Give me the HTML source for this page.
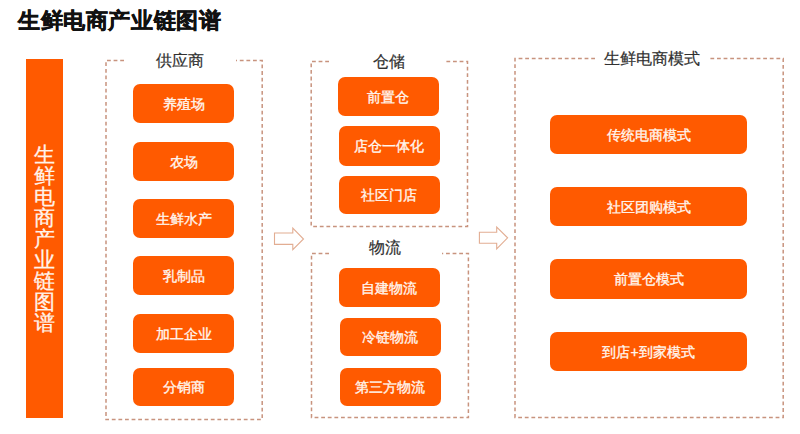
<!DOCTYPE html>
<html><head><meta charset="utf-8">
<style>
*{margin:0;padding:0;box-sizing:border-box}
html,body{width:800px;height:434px;background:#fff;overflow:hidden;font-family:"Liberation Sans",sans-serif}
.a{position:absolute}
.title{left:18px;top:6px;font-size:22px;font-weight:700;-webkit-text-stroke:0.5px #111;color:#111;letter-spacing:0.6px;white-space:nowrap;line-height:30px}
.bar{left:26px;top:59px;width:37px;height:359px;background:#FF5A00}
.vt{left:26px;top:143.5px;width:37px;font-size:21px;line-height:21.1px;color:#FFF4EC;text-align:center;-webkit-text-stroke:0.3px #FFF4EC}
.lbl{font-size:16px;color:#333;line-height:16px;white-space:nowrap;width:160px;text-align:center;-webkit-text-stroke:0.2px #303030;color:#303030}
.btn{background:#FF5A00;border-radius:7px;color:#fff;font-size:14px;text-align:center;white-space:nowrap;display:flex;align-items:center;justify-content:center;-webkit-text-stroke:0.35px #FFF6EE;color:#FFF6EE;padding-top:3px}
svg{position:absolute;left:0;top:0}
</style></head><body>
<div class="a title">生鲜电商产业链图谱</div>
<div class="a bar"></div>
<div class="a vt">生<br>鲜<br>电<br>商<br>产<br>业<br>链<br>图<br>谱</div>
<svg width="800" height="434">
<path d="M124 60.5 H106 V419.5 H262.2 V60.5 H236" fill="none" stroke="#C8937E" stroke-width="1.5" stroke-dasharray="3.8 2.8"/>
<path d="M329 61.4 H311.2 V226.4 H467.5 V61.4 H444" fill="none" stroke="#C8937E" stroke-width="1.5" stroke-dasharray="3.8 2.8"/>
<path d="M329 253.4 H311.5 V417.6 H468.4 V253.4 H442" fill="none" stroke="#C8937E" stroke-width="1.5" stroke-dasharray="3.8 2.8"/>
<path d="M595 58.5 H515 V417.5 H783.2 V58.5 H707.7" fill="none" stroke="#C8937E" stroke-width="1.5" stroke-dasharray="3.8 2.8"/>
<path d="M274.5 233 H292.8 V228.2 L303.5 239 L292.8 249.6 V244.4 H274.5 Z" fill="none" stroke="#E2AD92" stroke-width="1.1"/>
<path d="M479.4 232.3 H496.7 V227.1 L507.6 237.8 L496.7 249 V243.2 H479.4 Z" fill="none" stroke="#E2AD92" stroke-width="1.1"/>
</svg>
<div class="a lbl" style="left:99.5px;top:52.5px">供应商</div>
<div class="a lbl" style="left:308.5px;top:53.5px">仓储</div>
<div class="a lbl" style="left:304.5px;top:239.5px">物流</div>
<div class="a lbl" style="left:571.5px;top:50.5px">生鲜电商模式</div>
<div class="a btn" style="left:133px;top:83.5px;width:101px;height:39.5px">养殖场</div>
<div class="a btn" style="left:133px;top:141.5px;width:101px;height:39.5px">农场</div>
<div class="a btn" style="left:133px;top:198.5px;width:101px;height:39.5px">生鲜水产</div>
<div class="a btn" style="left:133px;top:256px;width:101px;height:39px">乳制品</div>
<div class="a btn" style="left:133px;top:313.5px;width:101px;height:39.5px">加工企业</div>
<div class="a btn" style="left:133px;top:367.5px;width:101px;height:38.5px">分销商</div>
<div class="a btn" style="left:337.5px;top:76.5px;width:101.5px;height:39px">前置仓</div>
<div class="a btn" style="left:338.5px;top:126px;width:101.5px;height:39.5px">店仓一体化</div>
<div class="a btn" style="left:338.5px;top:175.5px;width:101px;height:38.5px">社区门店</div>
<div class="a btn" style="left:338.5px;top:268px;width:101.5px;height:38.5px">自建物流</div>
<div class="a btn" style="left:339.5px;top:317.5px;width:101px;height:38.5px">冷链物流</div>
<div class="a btn" style="left:340px;top:367.5px;width:100.5px;height:38.5px">第三方物流</div>
<div class="a btn" style="left:550px;top:115px;width:197px;height:39px">传统电商模式</div>
<div class="a btn" style="left:550px;top:187px;width:197px;height:39px">社区团购模式</div>
<div class="a btn" style="left:550px;top:259px;width:197px;height:39.5px">前置仓模式</div>
<div class="a btn" style="left:550px;top:331.5px;width:197px;height:39.5px">到店+到家模式</div>
</body></html>
